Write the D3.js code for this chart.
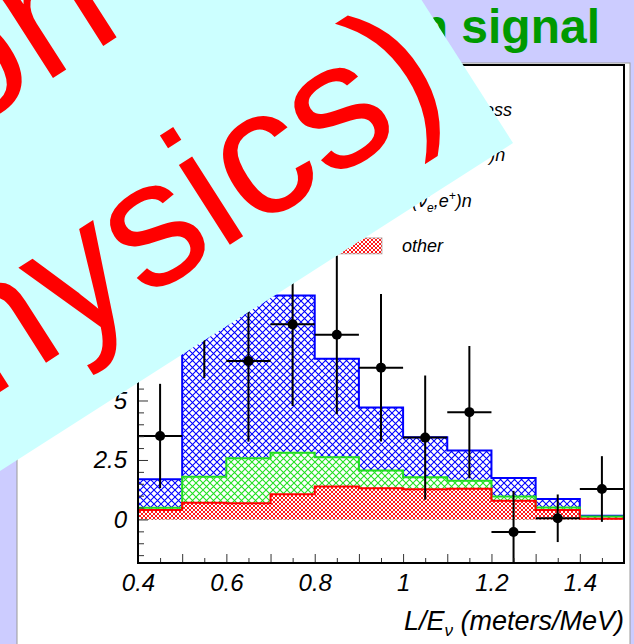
<!DOCTYPE html>
<html>
<head>
<meta charset="utf-8">
<script src="https://cdn.jsdelivr.net/npm/d3@7"></script>
<style>
  html, body { margin: 0; padding: 0; background: #ccccff; }
  svg { display: block; }
  text { font-family: "Liberation Sans", Arial, Helvetica, sans-serif; }
</style>
</head>
<body>
<svg id="chart" width="634" height="644"></svg>
<script>
// ---- data -------------------------------------------------------------
// L/E bins (lower edges, meters/MeV) and bin width
const binStarts = [0.4, 0.5, 0.6, 0.7, 0.8, 0.9, 1.0, 1.1, 1.2, 1.3, 1.4];
const binWidth = 0.1;

// stacked expectations per bin (events)
const otherBg   = [0.40, 0.70, 0.68, 1.06, 1.38, 1.31, 1.27, 1.29, 0.79, 0.40, 0.03];
const nuebarBg  = [0.09, 1.10, 1.89, 1.74, 1.23, 0.75, 0.50, 0.34, 0.17, 0.10, 0.09];
const oscExpect = [1.20, 7.00, 7.60, 6.61, 4.14, 2.65, 1.68, 1.27, 0.78, 0.36, 0.04];

// beam-excess data points with statistical errors
const excessX   = [0.45, 0.55, 0.65, 0.75, 0.85, 0.95, 1.05, 1.15, 1.25, 1.35, 1.45];
const excessY   = [3.51, 8.60, 6.66, 8.20, 7.76, 6.38, 3.44, 4.51, -0.53, 0.05, 1.28];
const excessErr = [2.19, 2.65, 3.39, 3.43, 3.33, 3.10, 2.61, 2.78, 1.73, 1.00, 1.38];

// axis ticks
const xTickValues = [0.4, 0.6, 0.8, 1.0, 1.2, 1.4];
const xTickLabels = ["0.4", "0.6", "0.8", "1", "1.2", "1.4"];
const yTickValues = [0, 2.5, 5, 7.5, 10, 12.5, 15, 17.5];
const yTickLabels = ["0", "2.5", "5", "7.5", "10", "12.5", "15", "17.5"];

// ---- layout -----------------------------------------------------------
const svg = d3.select("#chart");
const W = 634, H = 644;
const plot = { left: 138, right: 624, top: 65, bottom: 563 };

const x = d3.scaleLinear().domain([0.4, 1.5]).range([plot.left, plot.right]);
const y = d3.scaleLinear().domain([-1.83, 19.1]).range([plot.bottom, plot.top]);

// slide background and white figure panel
svg.append("rect").attr("width", W).attr("height", H).attr("fill", "#ccccff");
svg.append("rect").attr("x", 17).attr("y", 63).attr("width", 613).attr("height", 590)
  .attr("fill", "#ffffff").attr("stroke", "#9a9a9a").attr("stroke-width", 1);

// slide title
svg.append("text")
  .attr("x", 600).attr("y", 43)
  .attr("text-anchor", "end")
  .attr("font-size", 48).attr("font-weight", "bold")
  .attr("fill", "#009900")
  .text("LSND oscillation signal");

// ---- hatch patterns ---------------------------------------------------
const defs = svg.append("defs");
function crossHatch(id, color, size, sw) {
  const p = defs.append("pattern").attr("id", id)
    .attr("patternUnits", "userSpaceOnUse")
    .attr("width", size).attr("height", size);
  p.append("rect").attr("width", size).attr("height", size).attr("fill", "#ffffff");
  p.append("path")
    .attr("d", `M0,0L${size},${size}M0,${size}L${size},0`)
    .attr("stroke", color).attr("stroke-width", sw).attr("fill", "none");
}
crossHatch("hatchBlue", "#0000ff", 7, 1.1);
crossHatch("hatchGreen", "#22e022", 7, 1.1);
crossHatch("hatchRed", "#ff0000", 4, 0.9);

defs.append("clipPath").attr("id", "plotClip")
  .append("rect").attr("x", plot.left).attr("y", plot.top)
  .attr("width", plot.right - plot.left).attr("height", plot.bottom - plot.top);

// ---- stacked histograms ------------------------------------------------
const rows = binStarts.map((b, i) => ({ b, other: otherBg[i], nuebar: nuebarBg[i], osc: oscExpect[i] }));
const stack = d3.stack().keys(["other", "nuebar", "osc"])(rows);
const colors = { other: "#ff0000", nuebar: "#22dd22", osc: "#0000ff" };
const fills = { other: "url(#hatchRed)", nuebar: "url(#hatchGreen)", osc: "url(#hatchBlue)" };

const hist = svg.append("g").attr("clip-path", "url(#plotClip)");

function stepPoints(layer) {
  const pts = layer.map((d, i) => [binStarts[i], d[1]]);
  pts.push([binStarts[binStarts.length - 1] + binWidth, layer[layer.length - 1][1]]);
  return pts;
}
const area = d3.area().curve(d3.curveStepAfter)
  .x(d => x(d[0])).y0(y(0)).y1(d => y(d[1]));
const line = d3.line().x(d => x(d[0])).y(d => y(d[1]));

// highest cumulative layer first so the lower ones sit on top of it
[...stack].reverse().forEach(layer => {
  hist.append("path").attr("d", area(stepPoints(layer))).attr("fill", fills[layer.key]);
});
[...stack].reverse().forEach(layer => {
  const pts = stepPoints(layer);
  const outline = [[pts[0][0], 0]];
  pts.forEach((p, i) => {
    if (i > 0) outline.push([p[0], pts[i - 1][1]]);
    outline.push(p);
  });
  outline.push([pts[pts.length - 1][0], 0]);
  hist.append("path").attr("d", line(outline))
    .attr("fill", "none").attr("stroke", colors[layer.key]).attr("stroke-width", 2);
});

// ---- beam excess points ------------------------------------------------
const pts = svg.append("g").attr("clip-path", "url(#plotClip)");
excessX.forEach((xv, i) => {
  const yv = excessY[i], e = excessErr[i];
  pts.append("line").attr("x1", x(xv)).attr("x2", x(xv))
    .attr("y1", y(yv - e)).attr("y2", y(yv + e))
    .attr("stroke", "#000").attr("stroke-width", 2);
  pts.append("line").attr("x1", x(xv - binWidth / 2)).attr("x2", x(xv + binWidth / 2))
    .attr("y1", y(yv)).attr("y2", y(yv))
    .attr("stroke", "#000").attr("stroke-width", 2);
  pts.append("circle").attr("cx", x(xv)).attr("cy", y(yv)).attr("r", 5).attr("fill", "#000");
});

// ---- axes ----------------------------------------------------------------
const yMinor = d3.range(-1.5, 19.01, 0.5).filter(v => Math.abs(v / 2.5 - Math.round(v / 2.5)) > 1e-6);
svg.append("g").attr("transform", `translate(${plot.left},0)`)
  .call(d3.axisLeft(y).tickValues(yMinor).tickSize(-6).tickFormat(""))
  .call(g => g.select(".domain").remove())
  .call(g => g.selectAll("line").attr("stroke", "#333"));
svg.append("g").attr("transform", `translate(${plot.left},0)`)
  .call(d3.axisLeft(y).tickValues(yTickValues).tickSize(-10).tickPadding(11)
    .tickFormat((d, i) => yTickLabels[i]))
  .call(g => g.select(".domain").remove())
  .call(g => g.selectAll("line").attr("stroke", "#333"))
  .call(g => g.selectAll("text").attr("font-size", 24).attr("font-style", "italic")
    .attr("fill", "#000").attr("font-family", "Liberation Sans, Arial, sans-serif"));

const xMinor = d3.range(0.45, 1.5, 0.1);
const xMajor = d3.range(0.5, 1.45, 0.1);
svg.append("g").attr("transform", `translate(0,${plot.bottom})`)
  .call(d3.axisBottom(x).tickValues(xMinor).tickSize(-5).tickFormat(""))
  .call(g => g.select(".domain").remove())
  .call(g => g.selectAll("line").attr("stroke", "#333"));
svg.append("g").attr("transform", `translate(0,${plot.bottom})`)
  .call(d3.axisBottom(x).tickValues(xMajor).tickSize(-9).tickFormat(""))
  .call(g => g.select(".domain").remove())
  .call(g => g.selectAll("line").attr("stroke", "#333"));
svg.append("g").attr("transform", `translate(0,${plot.bottom})`)
  .call(d3.axisBottom(x).tickValues(xTickValues).tickSize(0).tickPadding(11)
    .tickFormat((d, i) => xTickLabels[i]))
  .call(g => g.select(".domain").remove())
  .call(g => g.selectAll("text").attr("font-size", 24).attr("font-style", "italic")
    .attr("fill", "#000").attr("font-family", "Liberation Sans, Arial, sans-serif"));

// frame
svg.append("rect").attr("x", plot.left).attr("y", plot.top)
  .attr("width", plot.right - plot.left).attr("height", plot.bottom - plot.top)
  .attr("fill", "none").attr("stroke", "#000").attr("stroke-width", 2);

// x-axis title
const xt = svg.append("text").attr("x", 624).attr("y", 630)
  .attr("text-anchor", "end").attr("font-size", 27).attr("font-style", "italic");
xt.append("tspan").text("L/E");
xt.append("tspan").attr("font-size", 17).attr("dy", 6).text("ν");
xt.append("tspan").attr("dy", -6).text(" (meters/MeV)");

// ---- legend --------------------------------------------------------------
const legend = svg.append("g").attr("font-size", 18).attr("font-style", "italic");
const legX = 338, legW = 44, legTextX = 402, legY0 = 116, legStep = 45.3;
const legendFills = [null, "url(#hatchBlue)", "url(#hatchGreen)", "url(#hatchRed)"];
legendFills.forEach((f, i) => {
  const by = legY0 + i * legStep;
  if (f) {
    legend.append("rect").attr("x", legX).attr("y", by - 14).attr("width", legW).attr("height", 16)
      .attr("fill", f).attr("stroke", "#aaa").attr("stroke-width", 0.8);
  } else {
    legend.append("line").attr("x1", legX + legW / 2).attr("x2", legX + legW / 2)
      .attr("y1", by - 16).attr("y2", by + 4).attr("stroke", "#000").attr("stroke-width", 2);
    legend.append("line").attr("x1", legX).attr("x2", legX + legW)
      .attr("y1", by - 6).attr("y2", by - 6).attr("stroke", "#000").attr("stroke-width", 2);
    legend.append("circle").attr("cx", legX + legW / 2).attr("cy", by - 6).attr("r", 5);
  }
});
function legText(i) {
  return legend.append("text").attr("x", legTextX).attr("y", legY0 + i * legStep);
}
legText(0).text("Beam Excess");
{
  const t = legText(1);
  t.append("tspan").text("p(ν\u0304");
  t.append("tspan").attr("font-size", 12).attr("dy", 5).text("μ");
  t.append("tspan").attr("dy", -5).text("→ν\u0304");
  t.append("tspan").attr("font-size", 12).attr("dy", 5).text("e");
  t.append("tspan").attr("dy", -5).text(",e");
  t.append("tspan").attr("font-size", 12).attr("dy", -7).text("+");
  t.append("tspan").attr("dy", 7).text(")n");
}
{
  const t = legText(2);
  t.append("tspan").text("p(ν\u0304");
  t.append("tspan").attr("font-size", 12).attr("dy", 5).text("e");
  t.append("tspan").attr("dy", -5).text(",e");
  t.append("tspan").attr("font-size", 12).attr("dy", -7).text("+");
  t.append("tspan").attr("dy", 7).text(")n");
}
legText(3).text("other");

// ---- annotation box laid over the slide -----------------------------------
const note = svg.append("g").attr("transform", "translate(513,143) rotate(-32.6)");
note.append("rect").attr("x", -1400).attr("y", -900).attr("width", 1400).attr("height", 900)
  .attr("fill", "#ccffff");
note.append("text").attr("x", -265.5).attr("y", -302.7).attr("text-anchor", "end")
  .attr("font-size", 179).attr("fill", "#ff0000")
  .text("(oscillation");
note.append("text").attr("x", -27).attr("y", -66.7).attr("text-anchor", "end")
  .attr("font-size", 179).attr("fill", "#ff0000")
  .text("or new physics)");
</script>
</body>
</html>
